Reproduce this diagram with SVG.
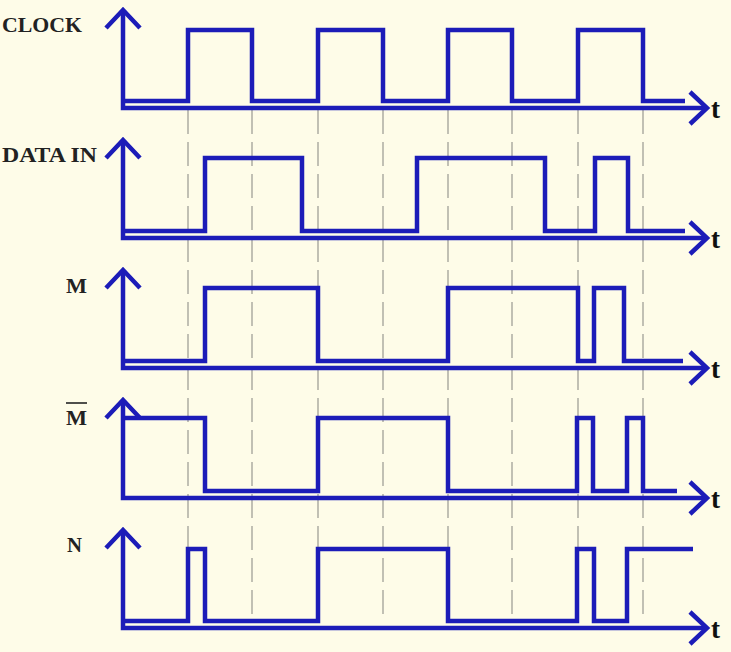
<svg xmlns="http://www.w3.org/2000/svg" width="731" height="652" viewBox="0 0 731 652">
<defs>
<style>
.bg{fill:#FEFCE8}
.grid line{stroke:#A0A098;stroke-width:1.3;stroke-dasharray:24 8}
.ax{fill:none;stroke:#1C1CB8;stroke-width:4.5;stroke-linejoin:miter;stroke-linecap:butt}
.sig{fill:none;stroke:#1C1CB8;stroke-width:4.5;stroke-linejoin:miter}
.lbl{font-family:"Liberation Serif","Times New Roman",serif;font-weight:bold;font-size:21px;fill:#222}
.t{font-family:"Liberation Serif","Times New Roman",serif;font-weight:bold;font-size:27px;fill:#111}
</style>
</defs>
<rect class="bg" x="0" y="0" width="731" height="652"/>
<g id="grid" class="grid">
<line x1="188" y1="110" x2="188" y2="614"/>
<line x1="252" y1="110" x2="252" y2="614"/>
<line x1="318" y1="110" x2="318" y2="614"/>
<line x1="383" y1="110" x2="383" y2="614"/>
<line x1="448" y1="110" x2="448" y2="614"/>
<line x1="512" y1="110" x2="512" y2="614"/>
<line x1="578" y1="110" x2="578" y2="614"/>
<line x1="643" y1="110" x2="643" y2="614"/>
</g>
<g id="clock">
<text class="lbl" x="2" y="32" textLength="80" lengthAdjust="spacingAndGlyphs">CLOCK</text>
<path class="ax" d="M123,10 V108 H707"/>
<polyline class="ax" points="106,28 123,10 140,28"/>
<polyline class="ax" points="690,92 707,108 690,124"/>
<text class="t" x="711" y="118">t</text>
<path class="sig" d="M123,101 H188 V30 H252 V101 H318 V30 H383 V101 H448 V30 H512 V101 H578 V30 H643 V101 H685"/>
</g>
<g id="data-in">
<text class="lbl" x="2" y="162" textLength="95" lengthAdjust="spacingAndGlyphs">DATA IN</text>
<path class="ax" d="M123,140 V238 H707"/>
<polyline class="ax" points="106,158 123,140 140,158"/>
<polyline class="ax" points="690,222 707,238 690,254"/>
<text class="t" x="711" y="248">t</text>
<path class="sig" d="M123,231 H205 V158 H302 V231 H417 V158 H545 V231 H595 V158 H628 V231 H685"/>
</g>
<g id="m">
<text class="lbl" x="66" y="293" textLength="21" lengthAdjust="spacingAndGlyphs">M</text>
<path class="ax" d="M123,270 V368 H707"/>
<polyline class="ax" points="106,288 123,270 140,288"/>
<polyline class="ax" points="690,352 707,368 690,384"/>
<text class="t" x="711" y="378">t</text>
<path class="sig" d="M123,361 H205 V288 H318 V361 H448 V288 H578 V361 H594 V288 H624 V361 H683"/>
</g>
<g id="m-bar">
<text class="lbl" x="66" y="425" textLength="21" lengthAdjust="spacingAndGlyphs">M</text>
<line x1="66" y1="403" x2="87" y2="403" stroke="#222" stroke-width="1.6"/>
<path class="ax" d="M123,400 V498 H707"/>
<polyline class="ax" points="106,418 123,400 140,418"/>
<polyline class="ax" points="690,482 707,498 690,514"/>
<text class="t" x="711" y="508">t</text>
<path class="sig" d="M123,418 H205 V491 H318 V418 H448 V491 H577 V418 H593 V491 H627 V418 H643 V491 H677"/>
</g>
<g id="n">
<text class="lbl" x="67" y="552" textLength="15" lengthAdjust="spacingAndGlyphs">N</text>
<path class="ax" d="M123,530 V628 H707"/>
<polyline class="ax" points="106,548 123,530 140,548"/>
<polyline class="ax" points="690,612 707,628 690,644"/>
<text class="t" x="711" y="638">t</text>
<path class="sig" d="M123,621 H188 V549 H205 V621 H318 V549 H448 V621 H577 V549 H594 V621 H627 V549 H693"/>
</g>
</svg>
